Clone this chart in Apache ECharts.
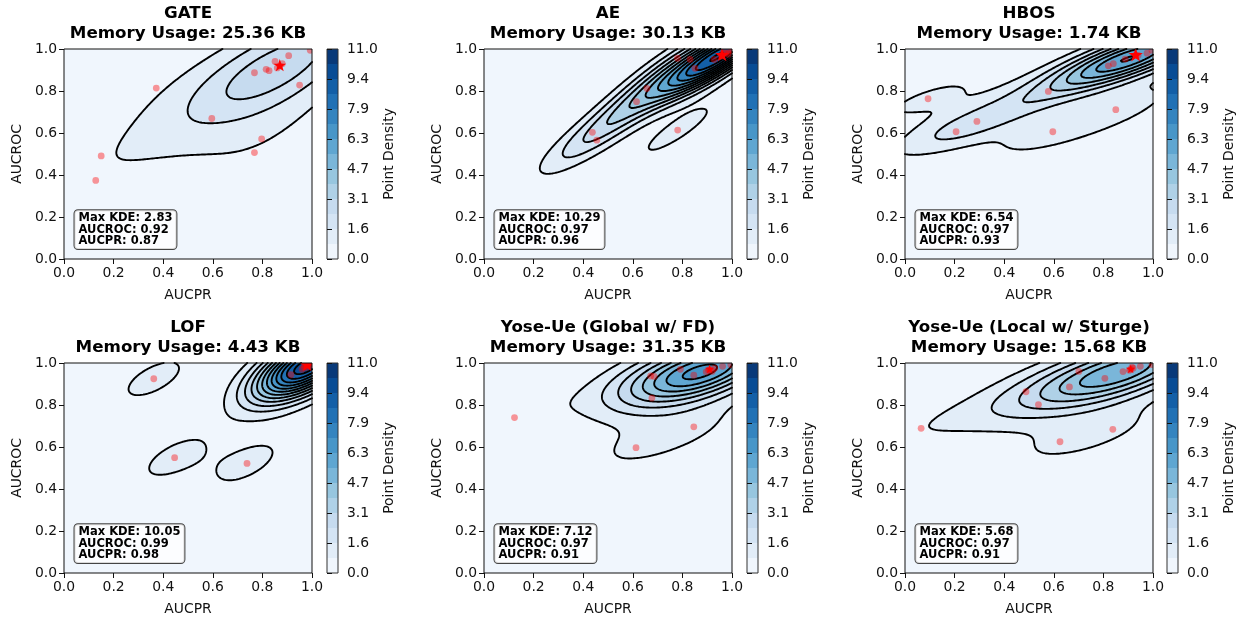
<!DOCTYPE html>
<html><head><meta charset="utf-8">
<script src="https://cdn.jsdelivr.net/npm/echarts@6/dist/echarts.min.js"></script>
<style>html,body{margin:0;padding:0;background:#fff}#c{width:1249px;height:621px}</style>
</head><body><div id="c"></div>
<script>
// ---------------- DATA ----------------
const panelTitles = ['GATE', 'AE', 'HBOS', 'LOF', 'Yose-Ue (Global w/ FD)', 'Yose-Ue (Local w/ Sturge)'];
const memoryUsageKB = ['25.36', '30.13', '1.74', '4.43', '31.35', '15.68'];
const maxKDELabels = ['2.83', '10.29', '6.54', '10.05', '7.12', '5.68'];
const peakAUCROC = [0.92, 0.97, 0.97, 0.99, 0.97, 0.97];
const peakAUCPR = [0.87, 0.96, 0.93, 0.98, 0.91, 0.91];

const gateAUCPR  = [0.128, 0.150, 0.372, 0.596, 0.797, 0.768, 0.768, 0.815, 0.827, 0.851, 0.906, 0.950, 0.993, 0.870, 0.880, 0.860];
const gateAUCROC = [0.374, 0.491, 0.814, 0.669, 0.572, 0.507, 0.887, 0.903, 0.897, 0.941, 0.968, 0.828, 0.994, 0.920, 0.930, 0.910];
const aeAUCPR  = [0.437, 0.455, 0.615, 0.657, 0.781, 0.780, 0.831, 0.851, 0.928, 0.960, 0.975, 0.990, 1.000, 0.965, 0.985, 0.955];
const aeAUCROC = [0.603, 0.566, 0.749, 0.812, 0.614, 0.956, 0.951, 0.908, 0.950, 0.970, 0.980, 0.990, 0.995, 0.985, 0.975, 0.965];
const hbosAUCPR  = [0.093, 0.206, 0.290, 0.578, 0.596, 0.850, 0.820, 0.840, 0.888, 0.976, 0.996, 0.930, 0.940];
const hbosAUCROC = [0.763, 0.606, 0.655, 0.798, 0.606, 0.711, 0.920, 0.930, 0.952, 0.980, 0.994, 0.970, 0.970];
const lofAUCPR  = [0.362, 0.446, 0.738, 0.915, 0.980, 0.970, 0.990, 1.000, 0.980, 0.960, 0.990, 1.000, 0.970];
const lofAUCROC = [0.925, 0.549, 0.522, 0.944, 0.990, 0.980, 1.000, 0.990, 0.980, 0.970, 0.990, 1.000, 0.990];
const yoseGlobalAUCPR  = [0.123, 0.613, 0.846, 0.677, 0.672, 0.686, 0.792, 0.846, 0.896, 0.962, 0.995, 0.910, 0.920, 0.930, 0.905];
const yoseGlobalAUCROC = [0.740, 0.597, 0.696, 0.833, 0.938, 0.936, 0.970, 0.942, 0.958, 0.984, 0.992, 0.970, 0.960, 0.975, 0.965];
const yoseLocalAUCPR  = [0.065, 0.488, 0.538, 0.625, 0.838, 0.663, 0.701, 0.806, 0.879, 0.949, 0.996, 0.910, 0.920, 0.905, 0.915];
const yoseLocalAUCROC = [0.689, 0.863, 0.802, 0.625, 0.684, 0.886, 0.960, 0.927, 0.959, 0.984, 0.992, 0.970, 0.975, 0.965, 0.980];

const axisTicks = [0, 0.2, 0.4, 0.6, 0.8, 1.0];
const densityLevels = [0, 0.7857, 1.5714, 2.3571, 3.1429, 3.9286, 4.7143, 5.5, 6.2857, 7.0714, 7.8571, 8.6429, 9.4286, 10.2143, 11];
const colorbarTicks = [0, 1.5714, 3.1429, 4.7143, 6.2857, 7.8571, 9.4286, 11];

const panelPR = [gateAUCPR, aeAUCPR, hbosAUCPR, lofAUCPR, yoseGlobalAUCPR, yoseLocalAUCPR];
const panelROC = [gateAUCROC, aeAUCROC, hbosAUCROC, lofAUCROC, yoseGlobalAUCROC, yoseLocalAUCROC];

// ---------------- STYLE / LAYOUT ----------------
const FONT = 'DejaVu Sans';
const TXT = '#111';
const LAYOUT = { mainLeft: [64, 484, 905], rowTop: [49, 363], w: 248, h: 210, cbLeft: [327, 747, 1167], cbW: 11 };
const starRadius = [6.8, 7.4, 7.6, 7.4, 4.8, 4.9];
const bwAdjust = [1.55, 1.35, 1.03, 1.0, 1.35, 1.4];

const bluesStops = ['#f7fbff', '#deebf7', '#c6dbef', '#9ecae1', '#6baed6', '#4292c6', '#2171b5', '#08519c', '#08306b'];
function hex2rgb(h) { return [parseInt(h.slice(1, 3), 16), parseInt(h.slice(3, 5), 16), parseInt(h.slice(5, 7), 16)]; }
function blues(t) {
  t = Math.max(0, Math.min(1, t));
  const s = t * (bluesStops.length - 1);
  const k = Math.min(bluesStops.length - 2, Math.floor(s));
  const f = s - k;
  const a = hex2rgb(bluesStops[k]), b = hex2rgb(bluesStops[k + 1]);
  return 'rgb(' + a.map((v, i) => Math.round(v + (b[i] - v) * f)).join(',') + ')';
}
const nBands = densityLevels.length - 1;
const bandColors = [];
for (let k = 0; k < nBands; k++) bandColors.push(blues((k + 0.5) / nBands));

// ---------------- KDE (gaussian_kde, Scott's rule with bandwidth adjust) ----------------
const N = 160;
function kdeGrid(xs, ys, bw) {
  const n = xs.length;
  let mx = 0, my = 0;
  for (let i = 0; i < n; i++) { mx += xs[i]; my += ys[i]; }
  mx /= n; my /= n;
  let sxx = 0, syy = 0, sxy = 0;
  for (let i = 0; i < n; i++) { const dx = xs[i] - mx, dy = ys[i] - my; sxx += dx * dx; syy += dy * dy; sxy += dx * dy; }
  sxx /= (n - 1); syy /= (n - 1); sxy /= (n - 1);
  const f2 = Math.pow(n, -1 / 3) * bw * bw;
  const a = sxx * f2, b = sxy * f2, c = syy * f2;
  const det = a * c - b * b;
  const ia = c / det, ib = -b / det, ic = a / det;
  const norm = 1 / (n * 2 * Math.PI * Math.sqrt(det));
  const Z = [];
  let zmax = 0;
  for (let j = 0; j <= N; j++) {
    const row = new Float64Array(N + 1);
    const y = j / N;
    for (let i = 0; i <= N; i++) {
      const x = i / N;
      let s = 0;
      for (let k = 0; k < n; k++) {
        const dx = x - xs[k], dy = y - ys[k];
        s += Math.exp(-0.5 * (ia * dx * dx + 2 * ib * dx * dy + ic * dy * dy));
      }
      row[i] = s * norm;
      if (row[i] > zmax) zmax = row[i];
    }
    Z.push(row);
  }
  return { Z, zmax };
}
function bandOf(v) {
  for (let k = nBands - 1; k >= 0; k--) if (v > densityLevels[k]) return k;
  return 0;
}
function fillRuns(Z) {
  const runs = [];
  for (let j = 0; j < N; j++) {
    const cell = i => bandOf((Z[j][i] + Z[j][i + 1] + Z[j + 1][i] + Z[j + 1][i + 1]) / 4);
    let start = 0, cur = cell(0);
    for (let i = 1; i <= N; i++) {
      const b = i < N ? cell(i) : -1;
      if (b !== cur) { runs.push([start / N, i / N, j / N, (j + 1) / N, cur]); start = i; cur = b; }
    }
  }
  return runs;
}
function contourPolylines(Z, level) {
  const pts = new Map(), adj = new Map();
  const hKey = (i, j) => 'h' + i + '_' + j, vKey = (i, j) => 'v' + i + '_' + j;
  function hPt(i, j) { const a = Z[j][i], b = Z[j][i + 1]; const t = (level - a) / (b - a); return [(i + t) / N, j / N]; }
  function vPt(i, j) { const a = Z[j][i], b = Z[j + 1][i]; const t = (level - a) / (b - a); return [i / N, (j + t) / N]; }
  function reg(key, p) { if (!pts.has(key)) { pts.set(key, p()); adj.set(key, []); } }
  function seg(k1, k2) { adj.get(k1).push(k2); adj.get(k2).push(k1); }
  for (let j = 0; j < N; j++) for (let i = 0; i < N; i++) {
    const v0 = Z[j][i], v1 = Z[j][i + 1], v2 = Z[j + 1][i + 1], v3 = Z[j + 1][i];
    const b0 = v0 > level, b1 = v1 > level, b2 = v2 > level, b3 = v3 > level;
    const E = {};
    if (b0 !== b1) { E.B = hKey(i, j); reg(E.B, () => hPt(i, j)); }
    if (b1 !== b2) { E.R = vKey(i + 1, j); reg(E.R, () => vPt(i + 1, j)); }
    if (b3 !== b2) { E.T = hKey(i, j + 1); reg(E.T, () => hPt(i, j + 1)); }
    if (b0 !== b3) { E.L = vKey(i, j); reg(E.L, () => vPt(i, j)); }
    const ks = Object.keys(E);
    if (ks.length === 2) seg(E[ks[0]], E[ks[1]]);
    else if (ks.length === 4) {
      const cAbove = (v0 + v1 + v2 + v3) / 4 > level;
      if (b0 && b2) { if (cAbove) { seg(E.B, E.R); seg(E.T, E.L); } else { seg(E.B, E.L); seg(E.R, E.T); } }
      else { if (cAbove) { seg(E.B, E.L); seg(E.R, E.T); } else { seg(E.B, E.R); seg(E.T, E.L); } }
    }
  }
  const visited = new Set(), lines = [];
  function walk(startKey, closed) {
    const line = [];
    let cur = startKey;
    while (cur) {
      visited.add(cur);
      line.push(pts.get(cur));
      cur = adj.get(cur).find(k => !visited.has(k));
    }
    if (closed) line.push(pts.get(startKey));
    if (line.length > 1) lines.push(line);
  }
  for (const [k, nb] of adj) if (nb.length === 1 && !visited.has(k)) walk(k, false);
  for (const [k] of adj) if (!visited.has(k)) walk(k, true);
  return lines;
}

// ---------------- BUILD OPTION ----------------
const grids = [], xAxes = [], yAxes = [], series = [], graphics = [];
const axisFont = { fontFamily: FONT, fontSize: 13.9, color: TXT };

for (let p = 0; p < 6; p++) {
  const col = p % 3, row = Math.floor(p / 3);
  const left = LAYOUT.mainLeft[col], top = LAYOUT.rowTop[row];
  const { Z, zmax } = kdeGrid(panelPR[p], panelROC[p], bwAdjust[p]);

  grids.push({ left: left, top: top, width: LAYOUT.w, height: LAYOUT.h, show: true, borderColor: '#111', borderWidth: 1, backgroundColor: 'transparent', z: 20, outerBoundsMode: 'none', containLabel: false });
  xAxes.push({
    gridIndex: p, type: 'value', min: axisTicks[0], max: axisTicks[axisTicks.length - 1], interval: axisTicks[1] - axisTicks[0],
    name: 'AUCPR', nameLocation: 'middle', nameGap: 29, nameTextStyle: axisFont,
    axisLine: { show: false }, splitLine: { show: false },
    axisTick: { show: true, length: 5, lineStyle: { color: TXT, width: 1 } },
    axisLabel: Object.assign({ margin: 7, formatter: v => v.toFixed(1), showMinLabel: true, showMaxLabel: true }, axisFont), z: 20
  });
  yAxes.push({
    gridIndex: p, type: 'value', min: axisTicks[0], max: axisTicks[axisTicks.length - 1], interval: axisTicks[1] - axisTicks[0],
    name: 'AUCROC', nameLocation: 'middle', nameRotate: 90, nameGap: 40, nameTextStyle: axisFont,
    axisLine: { show: false }, splitLine: { show: false },
    axisTick: { show: true, length: 5, lineStyle: { color: TXT, width: 1 } },
    axisLabel: Object.assign({ margin: 7, formatter: v => v.toFixed(1), showMinLabel: true, showMaxLabel: true }, axisFont), z: 20
  });

  series.push({
    type: 'custom', xAxisIndex: p, yAxisIndex: p, clip: true, silent: true, z: 1, animation: false,
    data: fillRuns(Z), encode: { x: [0, 1], y: [2, 3] },
    renderItem: (params, api) => {
      const p0 = api.coord([api.value(0), api.value(3)]);
      const p1 = api.coord([api.value(1), api.value(2)]);
      const x0 = Math.round(p0[0]), y0 = Math.round(p0[1]), x1 = Math.round(p1[0]), y1 = Math.round(p1[1]);
      return { type: 'rect', shape: { x: x0, y: y0, width: x1 - x0, height: y1 - y0 }, style: { fill: bandColors[api.value(4)] } };
    }
  });
  const polys = [];
  for (let k = 1; k < densityLevels.length - 1; k++) {
    if (densityLevels[k] < zmax) contourPolylines(Z, densityLevels[k]).forEach(l => polys.push({ coords: l }));
  }
  series.push({
    type: 'lines', coordinateSystem: 'cartesian2d', xAxisIndex: p, yAxisIndex: p, polyline: true, silent: true, z: 2,
    animation: false, clip: true, lineStyle: { color: '#000', width: 1.9, opacity: 1, cap: 'round', join: 'round' }, data: polys
  });
  series.push({
    type: 'custom', xAxisIndex: p, yAxisIndex: p, clip: true, silent: true, z: 3, animation: false,
    data: panelPR[p].map((x, i) => [x, panelROC[p][i]]), encode: { x: 0, y: 1 },
    renderItem: (params, api) => {
      const c = api.coord([api.value(0), api.value(1)]);
      return { type: 'circle', shape: { cx: c[0], cy: c[1], r: 3.4 }, style: { fill: 'rgba(255,0,0,0.4)' } };
    }
  });
  const R = starRadius[p];
  series.push({
    type: 'custom', xAxisIndex: p, yAxisIndex: p, clip: true, silent: true, z: 4, animation: false,
    data: [[peakAUCPR[p], peakAUCROC[p]]], encode: { x: 0, y: 1 },
    renderItem: (params, api) => {
      const c = api.coord([api.value(0), api.value(1)]);
      const ptsS = [];
      for (let k = 0; k < 10; k++) {
        const ang = -Math.PI / 2 + k * Math.PI / 5, rad = k % 2 ? R * 0.382 : R;
        ptsS.push([c[0] + rad * Math.cos(ang), c[1] + rad * Math.sin(ang)]);
      }
      return { type: 'polygon', shape: { points: ptsS }, style: { fill: '#ff0000' } };
    }
  });

  graphics.push({
    type: 'text', x: left + LAYOUT.w / 2, y: top - 5, z: 50,
    style: { text: panelTitles[p] + '\nMemory Usage: ' + memoryUsageKB[p] + ' KB', font: 'bold 16.7px "DejaVu Sans"', fill: '#000', align: 'center', verticalAlign: 'bottom', lineHeight: 20.5 }
  });
  graphics.push({
    type: 'text', x: left + 10.5, y: top + LAYOUT.h - 10, z: 50,
    style: {
      text: 'Max KDE: ' + maxKDELabels[p] + '\nAUCROC: ' + peakAUCROC[p].toFixed(2) + '\nAUCPR: ' + peakAUCPR[p].toFixed(2),
      font: 'bold 11.5px "DejaVu Sans"', fill: '#000', align: 'left', verticalAlign: 'bottom', lineHeight: 11.6,
      backgroundColor: 'rgba(255,255,255,0.8)', borderColor: '#444', borderWidth: 1, borderRadius: 3.5, padding: [2, 4, 2, 4]
    }
  });
}

for (let p = 0; p < 6; p++) {
  const col = p % 3, row = Math.floor(p / 3);
  const gi = 6 + p;
  grids.push({ left: LAYOUT.cbLeft[col], top: LAYOUT.rowTop[row], width: LAYOUT.cbW, height: LAYOUT.h, show: true, borderColor: '#333', borderWidth: 1, backgroundColor: 'transparent', z: 20, outerBoundsMode: 'none', containLabel: false });
  xAxes.push({ gridIndex: gi, type: 'value', min: 0, max: 1, show: false });
  yAxes.push({
    gridIndex: gi, type: 'value', position: 'right', min: densityLevels[0], max: densityLevels[densityLevels.length - 1],
    name: 'Point Density', nameLocation: 'middle', nameRotate: 90, nameGap: 44, nameTextStyle: axisFont,
    axisLine: { show: false }, splitLine: { show: false },
    axisTick: { show: true, length: 5, lineStyle: { color: TXT, width: 1 }, customValues: colorbarTicks },
    axisLabel: Object.assign({ margin: 9, formatter: v => v.toFixed(1), customValues: colorbarTicks }, axisFont), z: 20
  });
  const cbData = [];
  for (let k = 0; k < nBands; k++) cbData.push([0, 1, densityLevels[k], densityLevels[k + 1], k]);
  series.push({
    type: 'custom', xAxisIndex: gi, yAxisIndex: gi, clip: false, silent: true, z: 1, animation: false,
    data: cbData, encode: { x: [0, 1], y: [2, 3] },
    renderItem: (params, api) => {
      const p0 = api.coord([api.value(0), api.value(3)]);
      const p1 = api.coord([api.value(1), api.value(2)]);
      const y0 = Math.round(p0[1]), y1 = Math.round(p1[1]);
      return { type: 'rect', shape: { x: p0[0], y: y0, width: p1[0] - p0[0], height: y1 - y0 }, style: { fill: bandColors[api.value(4)] } };
    }
  });
}

const chart = echarts.init(document.getElementById('c'), null, { renderer: 'canvas' });
chart.setOption({
  animation: false,
  backgroundColor: '#fff',
  textStyle: { fontFamily: FONT },
  grid: grids, xAxis: xAxes, yAxis: yAxes, series: series, graphic: graphics
});
</script>
</body></html>
